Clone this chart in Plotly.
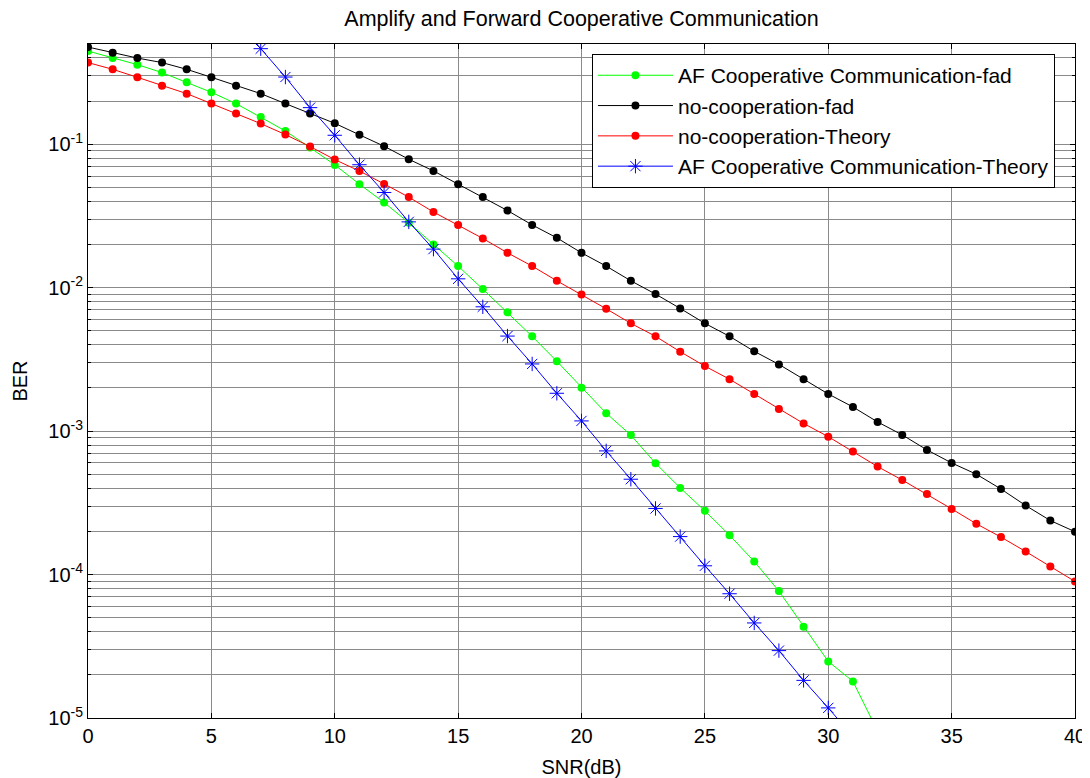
import plotly.graph_objects as go

# ---------------- data ----------------
snr_all = list(range(0, 41))

af_fad_snr = list(range(0, 33))
af_fad_ber = [0.4464, 0.399, 0.359, 0.316, 0.2703, 0.2302, 0.192, 0.1549, 0.1238, 0.0948,
              0.0718, 0.0527, 0.03926, 0.0284, 0.02002, 0.01414, 0.00978, 0.00673, 0.00458, 0.00307,
              0.00201, 0.001333, 0.000938, 0.000597, 0.000402, 0.000278, 0.000188, 0.0001234,
              0.0000767, 0.0000432, 0.0000248, 0.000018, 0.0000081]

nocoop_fad_ber = [0.476, 0.435, 0.399, 0.371, 0.333, 0.293, 0.256, 0.2254, 0.192, 0.1636,
                  0.140, 0.1164, 0.0969, 0.0786, 0.0652, 0.0527, 0.0428, 0.0345, 0.0274, 0.02226,
                  0.0175, 0.01414, 0.01117, 0.00903, 0.00717, 0.00564, 0.00458, 0.0036, 0.00292, 0.0023,
                  0.001816, 0.001474, 0.001159, 0.000941, 0.00074, 0.0006, 0.000501, 0.000395,
                  0.000303, 0.000238, 0.000199]

nocoop_th_ber = [0.371, 0.333, 0.293, 0.256, 0.2254, 0.192, 0.1636, 0.1393, 0.1168, 0.0964,
                 0.0782, 0.0651, 0.0529, 0.0428, 0.0337, 0.02737, 0.02204, 0.0175, 0.01414, 0.01117,
                 0.00898, 0.00713, 0.00564, 0.00458, 0.00358, 0.00284, 0.0023, 0.001816, 0.001427,
                 0.001131, 0.000915, 0.00072, 0.000566, 0.000456, 0.000364, 0.000287, 0.000226,
                 0.0001824, 0.0001448, 0.0001139, 0.0000895]

af_th_snr = list(range(6, 32))
af_th_ber = [0.754, 0.4638, 0.2942, 0.180, 0.1155, 0.0720, 0.0461, 0.02877, 0.01857, 0.01153,
             0.00736, 0.0046, 0.00294, 0.001836, 0.001178, 0.000728, 0.000462, 0.000289, 0.000184,
             0.0001151, 0.0000735, 0.000046, 0.0000295, 0.0000183, 0.00001176, 0.00000742]

series_names = ["AF Cooperative Communication-fad", "no-cooperation-fad",
                "no-cooperation-Theory", "AF Cooperative Communication-Theory"]

y_tick_vals = [1e-5, 1e-4, 1e-3, 1e-2, 1e-1]
y_tick_text = ["10<sup>-5</sup>", "10<sup>-4</sup>", "10<sup>-3</sup>", "10<sup>-2</sup>", "10<sup>-1</sup>"]
x_tick_vals = [0, 5, 10, 15, 20, 25, 30, 35, 40]

# ---------------- figure ----------------
FONT = "Liberation Sans, Arial, sans-serif"
GRID = "#8a8a8a"

fig = go.Figure()
fig.add_trace(go.Scatter(x=af_fad_snr, y=af_fad_ber, name=series_names[0], mode="lines+markers",
                         line=dict(color="#00ff00", width=1),
                         marker=dict(symbol="circle", size=8, color="#00ff00")))
fig.add_trace(go.Scatter(x=snr_all, y=nocoop_fad_ber, name=series_names[1], mode="lines+markers",
                         line=dict(color="#000000", width=1),
                         marker=dict(symbol="circle", size=8, color="#000000")))
fig.add_trace(go.Scatter(x=snr_all, y=nocoop_th_ber, name=series_names[2], mode="lines+markers",
                         line=dict(color="#ff0000", width=1),
                         marker=dict(symbol="circle", size=8, color="#ff0000")))
fig.add_trace(go.Scatter(x=af_th_snr, y=af_th_ber, name=series_names[3], mode="lines+markers",
                         line=dict(color="#0000ff", width=1),
                         marker=dict(symbol="asterisk-open", size=12,
                                     line=dict(color="#0000ff", width=1))))

minor_vals = [k * 10 ** e for e in range(-5, 0) for k in range(2, 10)]

# The page body has an 8px margin, so the figure is sized/offset to compensate.
W, H = 1082, 770
fig.update_layout(
    width=W, height=H,
    paper_bgcolor="white", plot_bgcolor="white",
    margin=dict(l=80, r=15, t=36, b=60),
    font=dict(family=FONT, size=20, color="black"),
    title=dict(text="Amplify and Forward Cooperative Communication",
               x=0.5, xref="paper", y=1 - 10 / H, yref="container",
               xanchor="center", yanchor="middle",
               font=dict(family=FONT, size=21.5, color="black")),
    showlegend=True,
    legend=dict(x=0.5106, y=0.985, xanchor="left", yanchor="top",
                bgcolor="white", bordercolor="black", borderwidth=1,
                font=dict(family=FONT, size=21, color="black"),
                itemwidth=75, tracegroupgap=0),
    xaxis=dict(range=[0, 40], tickvals=x_tick_vals, showgrid=True, gridcolor=GRID, gridwidth=1,
               zeroline=False, showline=True, linecolor="black", linewidth=1, mirror="ticks",
               ticks="inside", ticklen=5, tickcolor="black", automargin=False,
               tickfont=dict(family=FONT, size=20),
               title=dict(text="SNR(dB)", font=dict(family=FONT, size=20), standoff=22)),
    yaxis=dict(type="log", range=[-5, -0.30103], tickvals=y_tick_vals, ticktext=y_tick_text,
               showgrid=True, gridcolor=GRID, gridwidth=1,
               zeroline=False, showline=True, linecolor="black", linewidth=1, mirror="ticks",
               ticks="inside", ticklen=5, tickcolor="black", automargin=False,
               tickfont=dict(family=FONT, size=20),
               minor=dict(tickvals=minor_vals, showgrid=True, gridcolor=GRID, gridwidth=1,
                          ticks="inside", ticklen=3, tickcolor="black"),
               title=dict(text="BER", font=dict(family=FONT, size=20), standoff=15)),
)

fig.write_html("out.html")
